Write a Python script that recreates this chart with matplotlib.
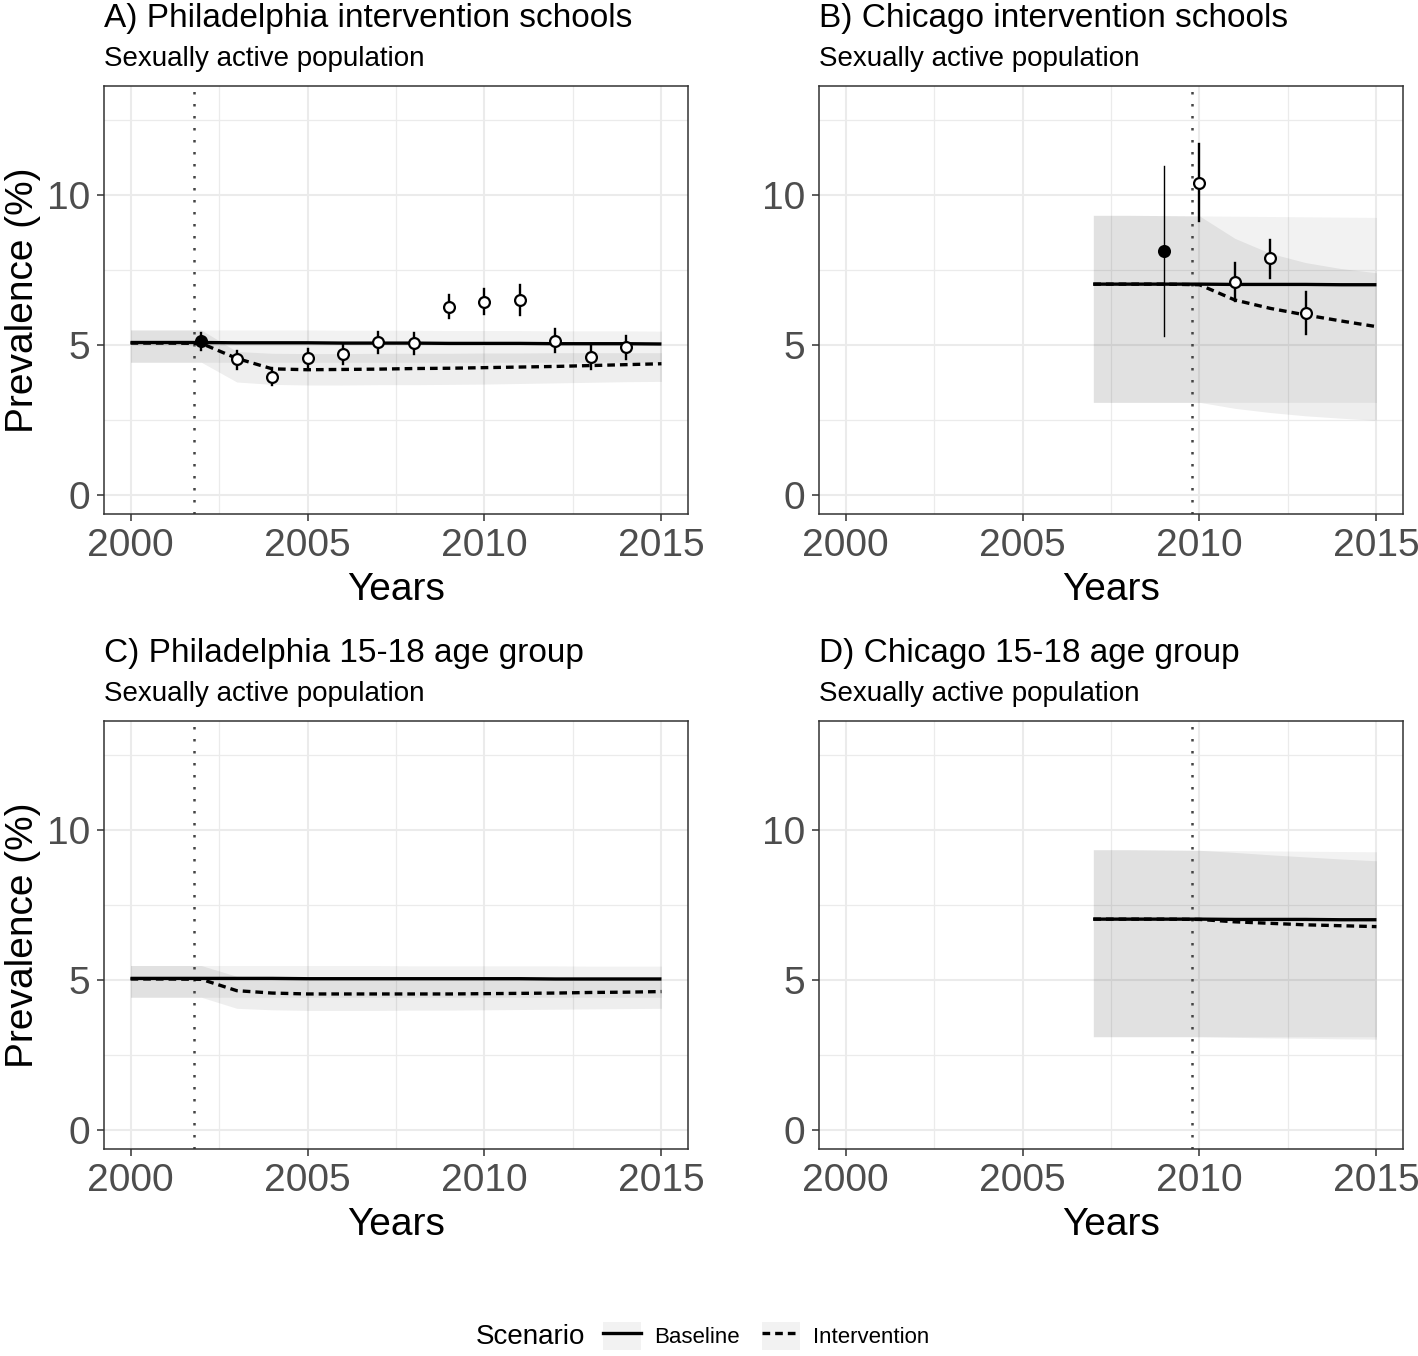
import matplotlib.pyplot as plt
from matplotlib.lines import Line2D
from matplotlib.patches import Patch
from matplotlib.legend_handler import HandlerTuple

plt.rcParams['font.family'] = ['Liberation Sans', 'DejaVu Sans']

# ---- data ----
# A) Philadelphia intervention schools
a_years = [2000, 2001, 2002, 2003, 2004, 2005, 2006, 2007, 2008, 2009, 2010, 2011, 2012, 2013, 2014, 2015]
a_base = [5.08, 5.08, 5.08, 5.07, 5.07, 5.07, 5.06, 5.06, 5.06, 5.05, 5.05, 5.05, 5.04, 5.04, 5.04, 5.03]
a_int = [5.06, 5.06, 5.05, 4.55, 4.20, 4.17, 4.18, 4.19, 4.21, 4.22, 4.24, 4.26, 4.28, 4.31, 4.34, 4.37]
a_base_lo = [4.42, 4.42, 4.42, 4.42, 4.42, 4.42, 4.42, 4.42, 4.42, 4.42, 4.42, 4.42, 4.42, 4.42, 4.42, 4.42]
a_base_hi = [5.50, 5.50, 5.50, 5.50, 5.50, 5.50, 5.49, 5.49, 5.49, 5.48, 5.48, 5.48, 5.47, 5.47, 5.47, 5.46]
a_int_lo = [4.42, 4.42, 4.42, 3.76, 3.68, 3.66, 3.66, 3.67, 3.67, 3.68, 3.69, 3.71, 3.73, 3.75, 3.77, 3.78]
a_int_hi = [5.50, 5.50, 5.50, 4.78, 4.72, 4.71, 4.71, 4.72, 4.72, 4.72, 4.73, 4.73, 4.74, 4.74, 4.74, 4.74]
a_obs_years = [2002, 2003, 2004, 2005, 2006, 2007, 2008, 2009, 2010, 2011, 2012, 2013, 2014]
a_obs = [5.13, 4.52, 3.94, 4.57, 4.69, 5.10, 5.06, 6.28, 6.43, 6.50, 5.14, 4.58, 4.92]
a_obs_lo = [4.83, 4.20, 3.67, 4.26, 4.37, 4.74, 4.69, 5.89, 6.02, 6.00, 4.77, 4.20, 4.52]
a_obs_hi = [5.41, 4.80, 4.22, 4.87, 5.00, 5.42, 5.41, 6.67, 6.87, 7.00, 5.52, 5.00, 5.31]
a_obs_filled = [True, False, False, False, False, False, False, False, False, False, False, False, False]
a_start = 2001.8

# B) Chicago intervention schools
b_years = [2007, 2008, 2009, 2010, 2011, 2012, 2013, 2014, 2015]
b_base = [7.03, 7.03, 7.03, 7.03, 7.02, 7.02, 7.02, 7.01, 7.01]
b_int = [7.03, 7.03, 7.03, 7.01, 6.50, 6.22, 6.00, 5.80, 5.61]
b_base_lo = [3.08, 3.08, 3.08, 3.08, 3.08, 3.08, 3.08, 3.08, 3.08]
b_base_hi = [9.33, 9.33, 9.32, 9.31, 9.30, 9.29, 9.28, 9.27, 9.26]
b_int_lo = [3.08, 3.08, 3.08, 3.08, 2.88, 2.74, 2.63, 2.55, 2.48]
b_int_hi = [9.33, 9.33, 9.32, 9.31, 8.56, 8.06, 7.75, 7.55, 7.41]
b_obs_years = [2009, 2010, 2011, 2012, 2013]
b_obs = [8.13, 10.42, 7.09, 7.89, 6.08]
b_obs_lo = [5.30, 9.14, 6.48, 7.24, 5.37]
b_obs_hi = [10.97, 11.70, 7.72, 8.52, 6.78]
b_obs_filled = [True, False, False, False, False]
b_start = 2009.8

# C) Philadelphia 15-18 age group
c_years = a_years
c_base = [5.05, 5.05, 5.05, 5.05, 5.05, 5.04, 5.04, 5.04, 5.04, 5.04, 5.04, 5.04, 5.03, 5.03, 5.03, 5.03]
c_int = [5.03, 5.03, 5.02, 4.64, 4.56, 4.53, 4.53, 4.53, 4.53, 4.53, 4.54, 4.55, 4.56, 4.58, 4.59, 4.61]
c_base_lo = [4.42, 4.42, 4.42, 4.42, 4.42, 4.42, 4.42, 4.42, 4.42, 4.42, 4.42, 4.42, 4.42, 4.42, 4.42, 4.42]
c_base_hi = [5.48, 5.48, 5.48, 5.48, 5.48, 5.48, 5.48, 5.48, 5.47, 5.47, 5.47, 5.47, 5.47, 5.46, 5.46, 5.46]
c_int_lo = [4.42, 4.42, 4.42, 4.05, 4.00, 3.98, 3.98, 3.98, 3.99, 3.99, 4.00, 4.01, 4.02, 4.03, 4.04, 4.05]
c_int_hi = [5.48, 5.48, 5.48, 5.12, 5.08, 5.06, 5.06, 5.06, 5.07, 5.07, 5.08, 5.08, 5.09, 5.10, 5.10, 5.11]

# D) Chicago 15-18 age group
d_years = b_years
d_base = [7.03, 7.03, 7.03, 7.03, 7.02, 7.02, 7.02, 7.01, 7.01]
d_int = [7.03, 7.03, 7.03, 7.02, 6.94, 6.89, 6.84, 6.81, 6.78]
d_base_lo = [3.10, 3.10, 3.10, 3.10, 3.10, 3.10, 3.10, 3.10, 3.10]
d_base_hi = [9.35, 9.35, 9.34, 9.33, 9.32, 9.31, 9.30, 9.29, 9.28]
d_int_lo = [3.10, 3.10, 3.10, 3.10, 3.08, 3.06, 3.05, 3.03, 3.02]
d_int_hi = [9.35, 9.35, 9.34, 9.33, 9.26, 9.18, 9.11, 9.04, 8.98]

titles = ['A) Philadelphia intervention schools', 'B) Chicago intervention schools',
          'C) Philadelphia 15-18 age group', 'D) Chicago 15-18 age group']
subtitle = 'Sexually active population'

BASE_ALPHA = 0.05
INT_ALPHA = 0.065
LW = 2.4
DASH = (2.3, 1.5)

W, H = 1418, 1356
fig = plt.figure(figsize=(W / 100, H / 100), dpi=100)


def px_axes(left, top, right, bottom):
    return fig.add_axes([left / W, 1 - bottom / H, (right - left) / W, (bottom - top) / H])


def draw_panel(ax, title, years, base, inter, base_lo, base_hi, int_lo, int_hi, start,
               obs_years=None, obs=None, obs_lo=None, obs_hi=None, obs_filled=None, ylabel=True):
    ax.fill_between(years, base_lo, base_hi, color='black', alpha=BASE_ALPHA, lw=0, zorder=1)
    ax.fill_between(years, int_lo, int_hi, color='black', alpha=INT_ALPHA, lw=0, zorder=1)
    ax.axvline(start, color='#444444', lw=1.8, linestyle=(0, (1, 3.8)), zorder=2)
    ax.plot(years, base, color='black', lw=LW, solid_capstyle='butt', zorder=3)
    ax.plot(years, inter, color='black', lw=LW, linestyle=(0, DASH), zorder=3)
    if obs is not None:
        for x, y, lo, hi, filled in zip(obs_years, obs, obs_lo, obs_hi, obs_filled):
            bw = 1.0 if (filled and hi - lo > 3) else 1.7
            ax.plot([x, x], [lo, hi], color='black', lw=bw, zorder=4)
            ax.plot(x, y, marker='o', ms=7.8, mew=1.6, mec='black',
                    mfc='black' if filled else 'white', zorder=5)

    ax.set_xlim(1999.25, 2015.75)
    ax.set_ylim(-0.65, 13.65)
    ax.set_xticks([2000, 2005, 2010, 2015])
    ax.set_xticks([2002.5, 2007.5, 2012.5], minor=True)
    ax.set_yticks([0, 5, 10])
    ax.set_yticks([2.5, 7.5, 12.5], minor=True)
    ax.set_axisbelow(True)
    ax.grid(which='major', color='#EBEBEB', lw=1.5)
    ax.grid(which='minor', color='#EBEBEB', lw=0.9)
    for s in ax.spines.values():
        s.set_color('#333333')
        s.set_linewidth(1.1)
    ax.tick_params(which='major', length=5, width=1.1, color='#333333',
                   labelsize=28, labelcolor='#4D4D4D', pad=5)
    ax.tick_params(which='minor', length=0)
    ax.set_xlabel('Years', fontsize=28, labelpad=6)
    if ylabel:
        ax.set_ylabel('Prevalence (%)', fontsize=28, labelpad=4)
    ax.text(0, 1 + 59 / 428, title, transform=ax.transAxes, fontsize=24,
            ha='left', va='baseline')
    ax.text(0, 1 + 20 / 428, subtitle, transform=ax.transAxes, fontsize=20,
            ha='left', va='baseline')


ax_a = px_axes(104, 86, 688, 514)
ax_b = px_axes(819, 86, 1403, 514)
ax_c = px_axes(104, 721, 688, 1149)
ax_d = px_axes(819, 721, 1403, 1149)

draw_panel(ax_a, titles[0], a_years, a_base, a_int, a_base_lo, a_base_hi, a_int_lo, a_int_hi,
           a_start, a_obs_years, a_obs, a_obs_lo, a_obs_hi, a_obs_filled)
draw_panel(ax_b, titles[1], b_years, b_base, b_int, b_base_lo, b_base_hi, b_int_lo, b_int_hi,
           b_start, b_obs_years, b_obs, b_obs_lo, b_obs_hi, b_obs_filled, ylabel=False)
draw_panel(ax_c, titles[2], c_years, c_base, c_int, c_base_lo, c_base_hi, c_int_lo, c_int_hi,
           a_start)
draw_panel(ax_d, titles[3], d_years, d_base, d_int, d_base_lo, d_base_hi, d_int_lo, d_int_hi,
           b_start, ylabel=False)

# legend at the bottom
h_base = (Patch(facecolor='black', alpha=BASE_ALPHA, lw=0),
          Line2D([], [], color='black', lw=LW))
h_int = (Patch(facecolor='black', alpha=BASE_ALPHA, lw=0),
         Line2D([], [], color='black', lw=LW, linestyle=(0, DASH)))
fig.text(476 / W, 1 - 1337 / H, 'Scenario', fontsize=20, ha='left', va='center')
fig.legend([h_base, h_int], ['Baseline', 'Intervention'],
           handler_map={tuple: HandlerTuple(ndivide=1, pad=0)},
           loc='center left', bbox_to_anchor=(603 / W, 1 - 1336 / H), ncol=2,
           frameon=False, fontsize=16, handlelength=1.7, handleheight=1.6,
           handletextpad=0.6, columnspacing=1.0, borderpad=0, borderaxespad=0)

fig.savefig('out.png', dpi=100)
